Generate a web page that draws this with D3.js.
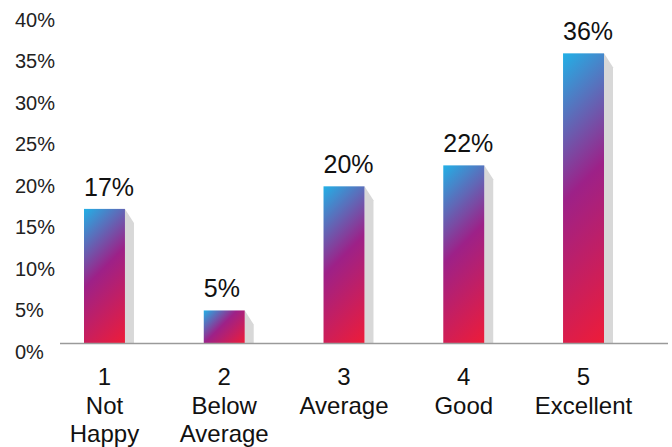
<!DOCTYPE html>
<meta charset="utf-8">
<style>

body {
  margin: 0;
  background: #fff;
}

svg {
  font-family: "Liberation Sans", Arial, sans-serif;
}

.tick-label {
  font-size: 20px;
  fill: #222;
}

.cat-label {
  font-size: 24px;
  fill: #111;
  text-anchor: middle;
}

.value-label {
  font-size: 25px;
  fill: #111;
}

</style>
<body>
<script src="https://cdn.jsdelivr.net/npm/d3@7"></script>
<script>

var categories = ["1", "2", "3", "4", "5"];
var catNames = [["1", "Not", "Happy"], ["2", "Below", "Average"], ["3", "Average"], ["4", "Good"], ["5", "Excellent"]];
var values = [16.7, 4.1, 19.5, 22.1, 36.0];
var valueLabels = ["17%", "5%", "20%", "22%", "36%"];
var tickValues = [0, 5, 10, 15, 20, 25, 30, 35, 40];

var width = 672,
    height = 447;

var svg = d3.select("body").append("svg")
    .attr("width", width)
    .attr("height", height);

var x = d3.scaleBand()
    .domain(categories)
    .range([44.6, 643.4])
    .paddingInner(0.658)
    .paddingOuter(0.329);

// bars
var y = d3.scaleLinear()
    .domain([0, 40])
    .range([343.5, 21.1]);

// the tick labels sit a little off the bar scale in the original
var yLabel = d3.scaleLinear()
    .domain([0, 40])
    .range([358.5, 27]);

var stops = [[0, "#22b0e6"], [0.45, "#9d2188"], [1, "#ee1c38"]];

// one 45 degree gradient per bar, in user space
var defs = svg.append("defs");

defs.selectAll("linearGradient")
    .data(values)
  .enter().append("linearGradient")
    .attr("id", function(d, i) { return "grad" + i; })
    .attr("gradientUnits", "userSpaceOnUse")
    .each(function(d, i) {
      var l = x(categories[i]), t = y(d),
          s = (x.bandwidth() + y(0) - y(d)) / 2;
      d3.select(this)
          .attr("x1", l).attr("y1", t)
          .attr("x2", l + s).attr("y2", t + s);
    })
  .selectAll("stop")
    .data(stops)
  .enter().append("stop")
    .attr("offset", function(d) { return d[0]; })
    .attr("stop-color", function(d) { return d[1]; });

svg.selectAll(".tick-label")
    .data(tickValues)
  .enter().append("text")
    .attr("class", "tick-label")
    .attr("x", 15)
    .attr("y", function(d) { return yLabel(d); })
    .text(function(d) { return d + "%"; });

var bar = svg.selectAll(".bar")
    .data(values)
  .enter().append("g")
    .attr("class", "bar");

var depth = 9, drop = 14;

bar.append("path")
    .attr("fill", "#d8d8d8")
    .attr("d", function(d, i) {
      var r = x(categories[i]) + x.bandwidth(), t = y(d), b = y(0);
      return "M" + r + "," + t + "L" + (r + depth) + "," + Math.min(t + drop, b) +
        "L" + (r + depth) + "," + b + "L" + r + "," + b + "Z";
    });

bar.append("rect")
    .attr("x", function(d, i) { return x(categories[i]); })
    .attr("y", function(d) { return y(d); })
    .attr("width", x.bandwidth())
    .attr("height", function(d) { return y(0) - y(d); })
    .attr("fill", function(d, i) { return "url(#grad" + i + ")"; });

bar.append("text")
    .attr("class", "value-label")
    .attr("x", function(d, i) { return x(categories[i]); })
    .attr("y", function(d) { return y(d) - 13; })
    .text(function(d, i) { return valueLabels[i]; });

svg.append("line")
    .attr("x1", 60)
    .attr("x2", 668)
    .attr("y1", y(0))
    .attr("y2", y(0))
    .attr("stroke", "#9a9a9a")
    .attr("stroke-width", 1.5);

svg.selectAll(".cat-label")
    .data(catNames)
  .enter().append("text")
    .attr("class", "cat-label")
    .attr("x", function(d, i) { return x(categories[i]) + x.bandwidth() / 2; })
    .attr("y", 385)
    .selectAll("tspan")
      .data(function(d) { return d; })
    .enter().append("tspan")
      .attr("x", function() { return d3.select(this.parentNode).attr("x"); })
      .attr("dy", function(d, i) { return i ? 28.5 : 0; })
      .text(function(d) { return d; });

</script>
</body>
